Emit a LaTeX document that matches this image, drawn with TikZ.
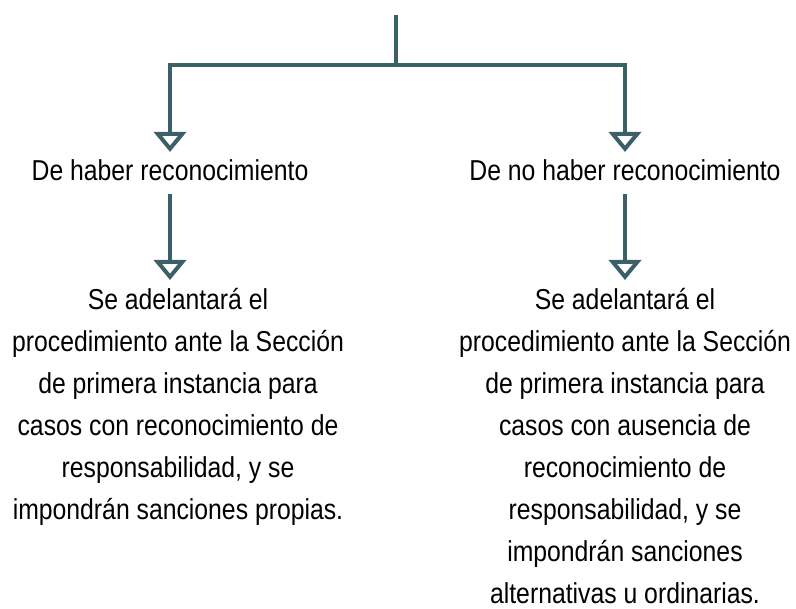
\documentclass[tikz,border=0pt]{standalone}
\usepackage{fontspec}
\setmainfont{Liberation Sans}[FakeStretch=0.86]
\usetikzlibrary{arrows.meta}
\definecolor{flujo}{HTML}{3B6068}

\begin{document}
\begin{tikzpicture}
[x=1pt,y=-1pt,
every node/.style={align=center,inner sep=0pt,
  font=\fontsize{28.8}{42}\selectfont},
linea/.style={draw=flujo,line width=4pt},
flecha/.style={linea,-{Triangle[open,length=20pt,width=32pt,line width=4pt]}},
]
\useasboundingbox (0,0) rectangle (796,609);

\coordinate (arriba) at (396,15);
\coordinate (rama) at (396,65);

\node[anchor=base] (con) at (170,181) {De haber reconocimiento};
\node[anchor=base] (sin) at (625,181) {De no haber reconocimiento};

\node[anchor=north] (efectocon) at (178,288)
  {Se adelantará el\\procedimiento ante la Sección\\de primera instancia para\\casos con reconocimiento de\\responsabilidad, y se\\impondrán sanciones propias.};
\node[anchor=north] (efectosin) at (625,288)
  {Se adelantará el\\procedimiento ante la Sección\\de primera instancia para\\casos con ausencia de\\reconocimiento de\\responsabilidad, y se\\impondrán sanciones\\alternativas u ordinarias.};

\draw[linea] (arriba) -- (rama);
\draw[flecha,shorten >=8pt] (rama) -| (con.north);
\draw[flecha,shorten >=8pt] (rama) -| (sin.north);
\draw[flecha,shorten <=13pt,shorten >=8pt] (con.south) -- (con.south|-efectocon.north);
\draw[flecha,shorten <=13pt,shorten >=8pt] (sin.south) -- (efectosin.north);
\end{tikzpicture}
\end{document}
